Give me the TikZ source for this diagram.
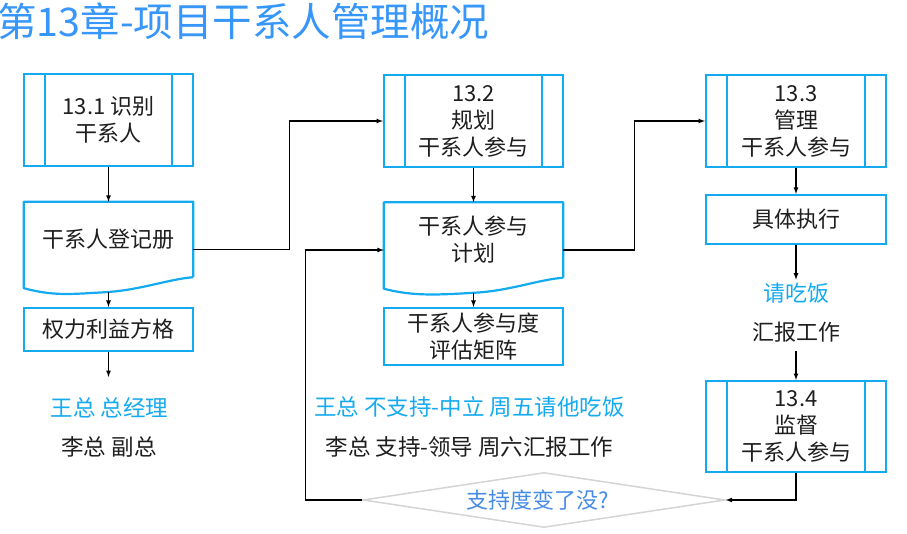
\documentclass[tikz,border=0pt]{standalone}
\usepackage{fontspec}
\setmainfont{Noto Sans CJK SC}
\usepackage{tikz}
\usetikzlibrary{shapes,arrows,positioning,calc}
\definecolor{boxblue}{RGB}{20,170,240}
\definecolor{titleblue}{RGB}{55,150,250}
\definecolor{askblue}{RGB}{70,140,230}
\definecolor{diagray}{RGB}{212,212,212}
\definecolor{inkgray}{RGB}{30,30,30}
\newcommand{\boxfont}{\fontsize{22}{27}\selectfont}
\newcommand{\notefont}{\fontsize{22.5}{27}\selectfont}
% document shape: straight top and sides, wavy bottom
\newcommand{\docshape}[1]{%
  \draw[draw=boxblue, line width=2.2pt, line join=round]
    (#1.south east) -- (#1.north east) -- (#1.north west) -- ([yshift=-11pt]#1.south west)
    .. controls +(30pt,-8pt) and +(-35pt,-2pt) .. ([xshift=-88pt,yshift=-15pt]#1.south east)
    .. controls +(35pt,2pt) and +(-25pt,-2pt) .. (#1.south east);}

\begin{document}
\begin{tikzpicture}[x=1pt, y=-1pt,
        proc/.style={rectangle, draw=boxblue, line width=2.2pt, fill=white, minimum height=92pt, align=center, font=\boxfont, text=inkgray, inner sep=0pt},
        doc/.style={rectangle, minimum height=75pt, align=center, font=\boxfont, text=inkgray, inner sep=0pt},
        plain/.style={rectangle, draw=boxblue, line width=2.2pt, fill=white, align=center, font=\boxfont, text=inkgray, inner sep=0pt},
        note/.style={font=\boxfont, text=inkgray, inner sep=3pt},
        arrow/.style={->, >=latex, line width=1.2pt}]

        \useasboundingbox (0,0) rectangle (907,534);

        \node[anchor=base west, font=\fontsize{39.5}{42}\selectfont, text=titleblue, inner sep=0pt] (TITLE) at (-3,36.5) {第13章-项目干系人管理概况};

        % column 1
        \node[proc, minimum width=169pt] (IDENT) at (108.5,120) {13.1 识别\\干系人};
        \node[doc, minimum width=169pt] (REG) at (108.5,239.5) {干系人登记册};
        \node[plain, minimum width=169pt, minimum height=43pt] (GRID) at (108.5,329.5) {权力利益方格};
        \coordinate (GRIDEND) at (108.5,377);
        \node[note, font=\notefont, text=boxblue] (WANG) at (109.5,408) {王总 总经理};
        \node[note, font=\notefont] (LI) at (109,447) {李总 副总};

        % column 2
        \node[proc, minimum width=179pt] (PLAN) at (473.5,121) {13.2\\规划\\干系人参与};
        \node[doc, minimum width=179pt] (PLANDOC) at (473.5,240) {干系人参与\\计划};
        \node[plain, minimum width=179pt, minimum height=57pt] (MATRIX) at (473.5,336.5) {干系人参与度\\评估矩阵};
        \node[note, font=\notefont, text=boxblue] (WANGPLAN) at (469.5,407) {王总 不支持-中立 周五请他吃饭};
        \node[note, font=\notefont] (LIPLAN) at (469.5,447) {李总 支持-领导 周六汇报工作};

        % column 3
        \node[proc, minimum width=180pt] (MANAGE) at (796,121) {13.3\\管理\\干系人参与};
        \node[plain, minimum width=180pt, minimum height=49pt] (EXEC) at (796,219.5) {具体执行};
        \node[note, text=boxblue] (DINNER) at (796,293) {请吃饭};
        \node[note] (REPORT) at (796,332) {汇报工作};
        \node[proc, minimum width=180pt, minimum height=91pt] (MONITOR) at (796,426.5) {13.4\\监督\\干系人参与};

        \node[diamond, draw=diagray, line width=1.5pt, minimum width=362pt, minimum height=55pt, aspect=6.6, inner sep=0pt, font=\boxfont, text=askblue] (CHECK) at (544,500) {支持度变了没?\kern12pt};

        \docshape{REG}
        \docshape{PLANDOC}
        \foreach \n in {IDENT,PLAN,MANAGE,MONITOR} {
            \draw[draw=boxblue, line width=2.2pt] ([xshift=22pt]\n.north west) -- ([xshift=22pt]\n.south west);
            \draw[draw=boxblue, line width=2.2pt] ([xshift=-22pt]\n.north east) -- ([xshift=-22pt]\n.south east);
        }

        \draw[arrow] (IDENT.south) -- (REG.north);
        \draw[arrow] ([yshift=-15pt]REG.south) -- (GRID.north);
        \draw[arrow] (GRID.south) -- (GRIDEND);
        \draw[arrow] ([yshift=-10pt]REG.east) -- ++(96pt,0pt) |- (PLAN.west);

        \draw[arrow] (PLAN.south) -- (PLANDOC.north);
        \draw[arrow] ([yshift=-15pt]PLANDOC.south) -- (MATRIX.north);
        \draw[arrow] ([yshift=-10pt]PLANDOC.east) -- ++(71pt,0pt) |- (MANAGE.west);

        \draw[arrow] (MANAGE.south) -- (EXEC.north);
        \draw[arrow] (EXEC.south) -- (DINNER.north);
        \draw[arrow, shorten <=6pt] (REPORT.south) -- (MONITOR.north);
        \draw[arrow] (MONITOR.south) |- (CHECK.east);
        \draw[arrow] (CHECK.west) -- ++(-57pt,0pt) |- ([yshift=-10pt]PLANDOC.west);

    \end{tikzpicture}
\end{document}
